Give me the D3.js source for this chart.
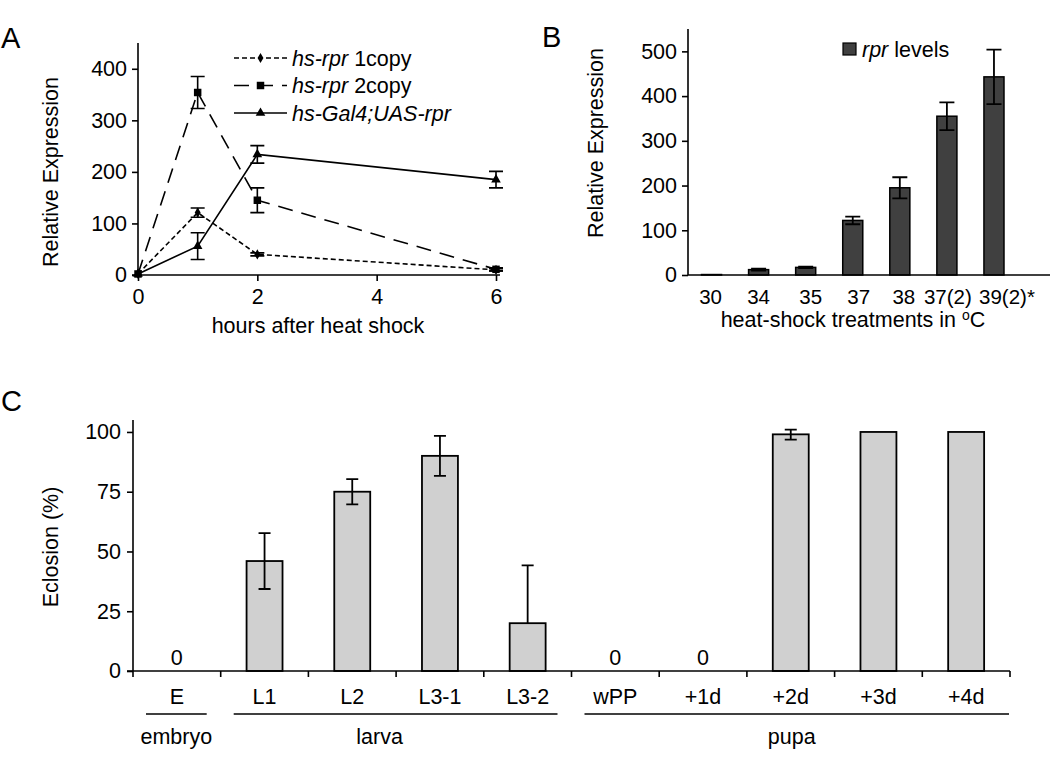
<!DOCTYPE html>
<html><head><meta charset="utf-8">
<script src="https://cdn.jsdelivr.net/npm/d3@7"></script>
<style>
body{margin:0;background:#fff}
svg{display:block}
text{font-family:"Liberation Sans",Arial,sans-serif;fill:#000}
</style>
</head><body>
<svg id="chart" width="1050" height="764"></svg>
<script>
// ---------- Panel A data ----------
const hoursA = [0, 1, 2, 6];
const copy1 = [2, 121, 40, 10];
const copy1Err = [0, 9, 3, 2];
const copy2 = [2, 354, 145, 11];
const copy2Err = [0, 31, 24, 3];
const gal4 = [2, 56, 234, 185];
const gal4Err = [0, 26, 17, 16];
const yTicksA = [0, 100, 200, 300, 400];
const xTicksA = [0, 2, 4, 6];

// ---------- Panel B data ----------
const tempsB = ["30", "34", "35", "37", "38", "37(2)", "39(2)*"];
const rprLevels = [1, 12, 17, 122, 195, 355, 443];
const rprErr = [0, 2, 1.5, 8.5, 23.5, 31, 61];
const yTicksB = [0, 100, 200, 300, 400, 500];

// ---------- Panel C data ----------
const stagesC = ["E", "L1", "L2", "L3-1", "L3-2", "wPP", "+1d", "+2d", "+3d", "+4d"];
const eclosion = [0, 46, 75, 90, 20, 0, 0, 99, 100, 100];
const eclosionErrUp = [0, 11.7, 5.3, 8.4, 24.2, 0, 0, 2, 0, 0];
const eclosionErrDown = [0, 11.7, 5.3, 8.4, 0, 0, 0, 2.2, 0, 0];
const groupNames = ["embryo", "larva", "pupa"];
const groupFirst = ["E", "L1", "wPP"];
const groupLast = ["E", "L3-2", "+4d"];
const yTicksC = [0, 25, 50, 75, 100];

const svg = d3.select("#chart");
const FS = 21.5;

function panelLetter(t, x, y) {
  svg.append("text").attr("x", x).attr("y", y).attr("font-size", 29).text(t);
}
panelLetter("A", 1, 48);
panelLetter("B", 542, 47);
panelLetter("C", 1, 411);

// ================= Panel A =================
{
  const g = svg.append("g");
  const x = d3.scaleLinear().domain([0, 6]).range([138, 496]);
  const y = d3.scaleLinear().domain([0, 450]).range([275, 43]);
  const ya = g.append("g").attr("transform", "translate(138,0)")
    .call(d3.axisLeft(y).tickValues(yTicksA).tickSize(6).tickPadding(5).tickFormat(d3.format("d")));
  ya.select(".domain").attr("d", `M0,${y(450)}V${y(0)}`);
  const xa = g.append("g").attr("transform", "translate(0,275)")
    .call(d3.axisBottom(x).tickValues(xTicksA).tickSize(6).tickPadding(8).tickFormat(d3.format("d")));
  xa.select(".domain").attr("d", `M${x(0) - 6},0H${x(6) + 4}`);
  [ya, xa].forEach(a => {
    a.selectAll("text").attr("font-size", FS).attr("font-family", "Liberation Sans");
    a.selectAll("line,path").attr("stroke", "#000").attr("stroke-width", 1.6);
  });
  g.append("text").attr("transform", "translate(58,172) rotate(-90)")
    .attr("text-anchor", "middle").attr("font-size", FS).text("Relative Expression");
  g.append("text").attr("x", 318).attr("y", 333).attr("text-anchor", "middle")
    .attr("font-size", FS).text("hours after heat shock");

  const series = [
    { vals: copy1, err: copy1Err, dash: "5,3", marker: "diamond", size: 30 },
    { vals: copy2, err: copy2Err, dash: "15,9", marker: "square", size: 56 },
    { vals: gal4, err: gal4Err, dash: null, marker: "triangle", size: 40 }
  ];
  const symMap = { diamond: d3.symbolDiamond, square: d3.symbolSquare, triangle: d3.symbolTriangle };
  const line = d3.line().x((d, i) => x(hoursA[i])).y(d => y(d));
  series.forEach(s => {
    g.append("path").datum(s.vals).attr("d", line).attr("fill", "none")
      .attr("stroke", "#000").attr("stroke-width", 1.6)
      .attr("stroke-dasharray", s.dash);
    s.vals.forEach((v, i) => {
      const e = s.err[i];
      if (e > 0) {
        const cx = x(hoursA[i]);
        g.append("path").attr("d",
          `M${cx},${y(v + e)}V${y(v - e)}M${cx - 7},${y(v + e)}H${cx + 7}M${cx - 7},${y(v - e)}H${cx + 7}`)
          .attr("stroke", "#000").attr("stroke-width", 1.6).attr("fill", "none");
      }
      g.append("path").attr("d", d3.symbol().type(symMap[s.marker]).size(s.size)())
        .attr("transform", `translate(${x(hoursA[i])},${y(v)})`).attr("fill", "#000");
    });
  });
  const legNames = [["hs-rpr", " 1copy"], ["hs-rpr", " 2copy"], ["hs-Gal4;UAS-rpr", ""]];
  legNames.forEach((n, i) => {
    const ly = 58 + i * 27.5;
    const s = series[i];
    g.append("line").attr("x1", 234).attr("x2", 287).attr("y1", ly).attr("y2", ly)
      .attr("stroke", "#000").attr("stroke-width", 1.6).attr("stroke-dasharray", s.dash);
    g.append("path").attr("d", d3.symbol().type(symMap[s.marker]).size(s.size)())
      .attr("transform", `translate(260.5,${ly})`).attr("fill", "#000");
    const t = g.append("text").attr("x", 292).attr("y", ly + 7.5).attr("font-size", FS);
    t.append("tspan").attr("font-style", "italic").text(n[0]);
    if (n[1]) t.append("tspan").text(n[1]);
  });
}

// ================= Panel B =================
{
  const g = svg.append("g");
  const x = d3.scaleBand().domain(tempsB).range([688, 1017.5]).paddingInner(0.574).paddingOuter(0.287);
  const y = d3.scaleLinear().domain([0, 550]).range([275, 29]);
  const ya = g.append("g").attr("transform", "translate(688,0)")
    .call(d3.axisLeft(y).tickValues(yTicksB).tickSize(6).tickPadding(5));
  ya.select(".domain").attr("d", `M0,${y(550)}V${y(0)}`);
  ya.selectAll("text").attr("font-size", FS);
  ya.selectAll("line,path").attr("stroke", "#000").attr("stroke-width", 1.6);

  g.selectAll("rect.bar").data(tempsB).join("rect").attr("class", "bar")
    .attr("x", d => x(d)).attr("width", x.bandwidth())
    .attr("y", (d, i) => y(rprLevels[i])).attr("height", (d, i) => y(0) - y(rprLevels[i]))
    .attr("fill", "#404040").attr("stroke", "#000").attr("stroke-width", 1.5);
  tempsB.forEach((d, i) => {
    const e = rprErr[i];
    if (e > 0) {
      const cx = x(d) + x.bandwidth() / 2, v = rprLevels[i];
      g.append("path").attr("d",
        `M${cx},${y(v + e)}V${y(v - e)}M${cx - 7.5},${y(v + e)}H${cx + 7.5}M${cx - 7.5},${y(v - e)}H${cx + 7.5}`)
        .attr("stroke", "#000").attr("stroke-width", 1.8).attr("fill", "none");
    }
  });
  g.append("line").attr("x1", 688).attr("x2", 1050).attr("y1", 275).attr("y2", 275)
    .attr("stroke", "#000").attr("stroke-width", 1.6);
  const labelDx = [-1, 0, 5, 6, 4, 1, 13];
  g.selectAll("text.xl").data(tempsB).join("text").attr("class", "xl")
    .attr("x", (d, i) => x(d) + x.bandwidth() / 2 + labelDx[i]).attr("y", 304)
    .attr("text-anchor", "middle").attr("font-size", 20.5).text(d => d);
  g.append("text").attr("transform", "translate(603,143) rotate(-90)")
    .attr("text-anchor", "middle").attr("font-size", FS).text("Relative Expression");
  const tt = g.append("text").attr("x", 853).attr("y", 327).attr("text-anchor", "middle").attr("font-size", FS);
  tt.append("tspan").text("heat-shock treatments in ");
  tt.append("tspan").attr("font-size", 14).attr("dy", -7).text("o");
  tt.append("tspan").attr("dy", 7).text("C");
  g.append("rect").attr("x", 843).attr("y", 43).attr("width", 13).attr("height", 12)
    .attr("fill", "#404040").attr("stroke", "#000").attr("stroke-width", 1.2);
  const lt = g.append("text").attr("x", 862).attr("y", 56.5).attr("font-size", FS);
  lt.append("tspan").attr("font-style", "italic").text("rpr");
  lt.append("tspan").text(" levels");
}

// ================= Panel C =================
{
  const g = svg.append("g");
  const x = d3.scaleBand().domain(stagesC).range([133, 1010]).paddingInner(0.59).paddingOuter(0.295);
  const xb = d3.scaleBand().domain(stagesC).range([133, 1010]);
  const y = d3.scaleLinear().domain([0, 105]).range([671, 420]);
  const ya = g.append("g").attr("transform", "translate(133,0)")
    .call(d3.axisLeft(y).tickValues(yTicksC).tickSize(6).tickPadding(6));
  ya.select(".domain").attr("d", `M0,${y(105)}V${y(0)}`);
  ya.selectAll("text").attr("font-size", FS);
  ya.selectAll("line,path").attr("stroke", "#000").attr("stroke-width", 1.6);

  g.selectAll("rect.bar").data(stagesC.filter((d, i) => eclosion[i] > 0)).join("rect").attr("class", "bar")
    .attr("x", d => x(d)).attr("width", x.bandwidth())
    .attr("y", d => y(eclosion[stagesC.indexOf(d)]))
    .attr("height", d => y(0) - y(eclosion[stagesC.indexOf(d)]))
    .attr("fill", "#d0d0d0").attr("stroke", "#000").attr("stroke-width", 1.8);
  stagesC.forEach((d, i) => {
    const cx = x(d) + x.bandwidth() / 2, v = eclosion[i];
    const up = eclosionErrUp[i], dn = eclosionErrDown[i];
    if (up > 0 || dn > 0) {
      let p = `M${cx},${y(v + up)}V${y(v - dn)}`;
      if (up > 0) p += `M${cx - 6},${y(v + up)}H${cx + 6}`;
      if (dn > 0) p += `M${cx - 6},${y(v - dn)}H${cx + 6}`;
      g.append("path").attr("d", p).attr("stroke", "#000").attr("stroke-width", 1.8).attr("fill", "none");
    }
    if (v === 0) {
      g.append("text").attr("x", cx).attr("y", 665).attr("text-anchor", "middle")
        .attr("font-size", FS).text(v);
    }
  });
  g.append("line").attr("x1", 127).attr("x2", 1010).attr("y1", 671).attr("y2", 671)
    .attr("stroke", "#000").attr("stroke-width", 1.6);
  stagesC.concat(["__end"]).forEach((d, i) => {
    const tx = i < stagesC.length ? xb(d) : 1010;
    g.append("line").attr("x1", tx).attr("x2", tx).attr("y1", 671).attr("y2", 677)
      .attr("stroke", "#000").attr("stroke-width", 1.6);
  });
  g.selectAll("text.xl").data(stagesC).join("text").attr("class", "xl")
    .attr("x", d => xb(d) + xb.bandwidth() / 2).attr("y", 704)
    .attr("text-anchor", "middle").attr("font-size", FS).text(d => d);
  const labelShift = [0, -16, -5];
  groupNames.forEach((n, i) => {
    const x1 = xb(groupFirst[i]) + 13;
    const x2 = xb(groupLast[i]) + xb.bandwidth() - (i === groupNames.length - 1 ? 1 : 14);
    g.append("line").attr("x1", x1).attr("x2", x2).attr("y1", 714).attr("y2", 714)
      .attr("stroke", "#000").attr("stroke-width", 1.4);
    g.append("text").attr("x", (x1 + x2) / 2 + labelShift[i]).attr("y", 744)
      .attr("text-anchor", "middle").attr("font-size", FS).text(n);
  });
  g.append("text").attr("transform", "translate(58,547) rotate(-90)")
    .attr("text-anchor", "middle").attr("font-size", FS).text("Eclosion (%)");
}
</script>
</body></html>
